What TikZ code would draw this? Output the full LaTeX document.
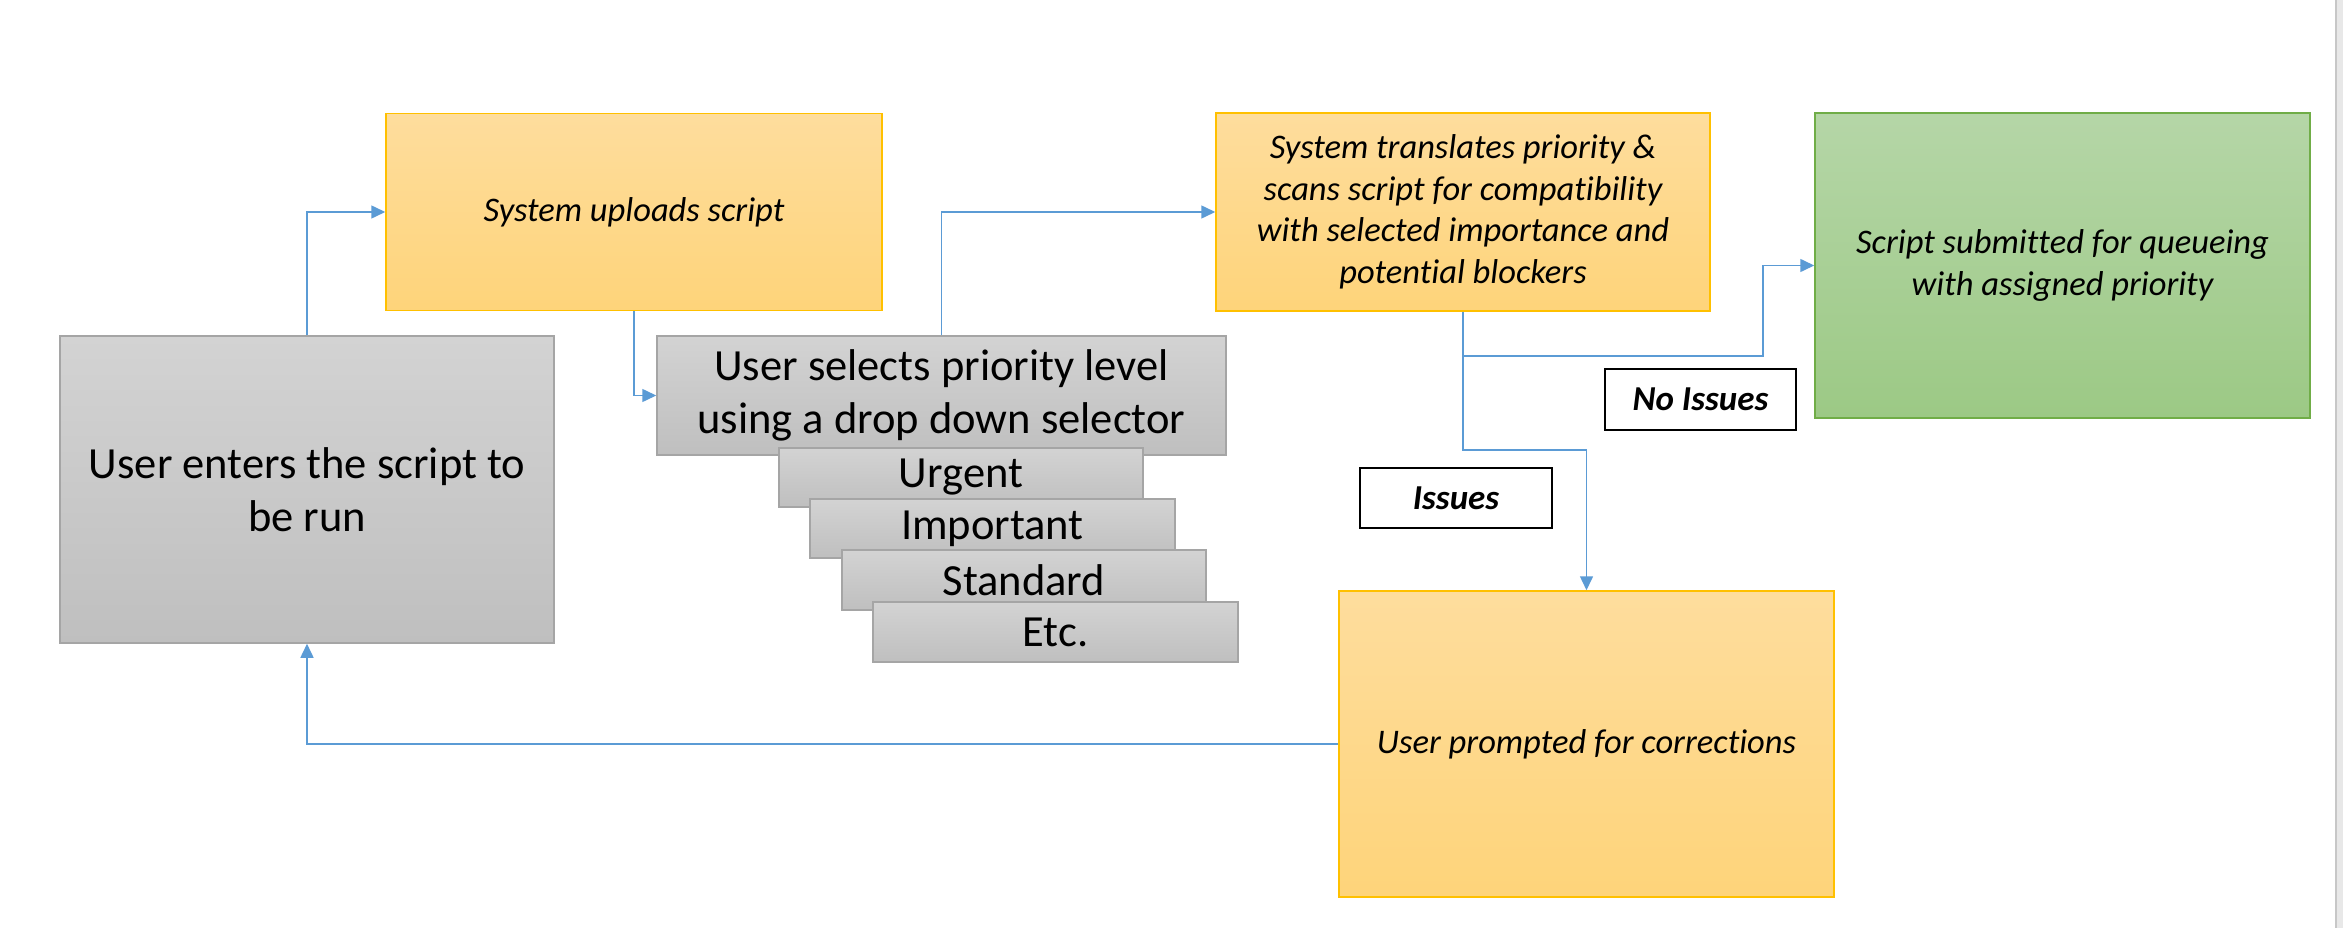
\documentclass[tikz,border=0pt]{standalone}
\usepackage{fontspec}
\setmainfont{Carlito}[Ligatures={NoCommon}]
\usetikzlibrary{arrows.meta}
\newcommand\ligbrk{\kern0pt{}}
\definecolor{orTop}{HTML}{FEDD9D}
\definecolor{orBot}{HTML}{FED47A}
\definecolor{orLine}{HTML}{FFC000}
\definecolor{grTop}{HTML}{B5D6A7}
\definecolor{grBot}{HTML}{9CC985}
\definecolor{grLine}{HTML}{70AD47}
\definecolor{gyTop}{HTML}{D3D3D3}
\definecolor{gyBot}{HTML}{BFBFBF}
\definecolor{gyLine}{HTML}{A5A5A5}
\definecolor{conLine}{HTML}{5B9BD5}
\begin{document}
\begin{tikzpicture}[x=1pt,y=-1pt,
  basebox/.style={rectangle, inner sep=0pt, align=center, line width=1.5pt},
  orbox/.style={basebox, draw=orLine, top color=orTop, bottom color=orBot,
     font=\fontsize{34.5}{41.5}\selectfont\itshape},
  grbox/.style={basebox, draw=grLine, top color=grTop, bottom color=grBot,
     font=\fontsize{34.5}{41.5}\selectfont\itshape},
  gybox/.style={basebox, draw=gyLine, top color=gyTop, bottom color=gyBot,
     font=\fontsize{44.5}{53}\selectfont},
  lblbox/.style={basebox, draw=black, line width=2.5pt, fill=white,
     font=\fontsize{35}{40}\selectfont\bfseries\itshape},
  conn/.style={draw=conLine, line width=1.5pt,
     -{Triangle[length=14pt,width=13pt]}}]
\useasboundingbox (0,0) rectangle (2343,928);
\fill[white] (0,0) rectangle (2343,928);
\fill[black!9] (2336,0) rectangle (2343,928);
\draw[black!22, line width=2pt] (2336,0) -- (2336,928);

\node[gybox, minimum width=494pt, minimum height=307pt] (enter) at (307,489.5)
  {User enters the script to\\be run};
\node[orbox, minimum width=496pt, minimum height=197pt] (uploads) at (634,212)
  {System uploads script};
\node[gybox, minimum width=569pt, minimum height=119pt] (selects) at (941.5,395.5)
  {User selects priority level\\using a drop down selector};
\node[gybox, minimum width=364pt, minimum height=59pt] (urgent) at (961,477.5) {\raisebox{-3pt}{Urgent}};
\node[gybox, minimum width=365pt, minimum height=59pt] (important) at (992.5,528.5) {\raisebox{-3pt}{Important}};
\node[gybox, minimum width=364pt, minimum height=60pt] (standard) at (1024,580) {\raisebox{-1pt}{Standard}};
\node[gybox, minimum width=365pt, minimum height=60pt] (etc) at (1055.5,632) {\raisebox{-1pt}{Etc.}};
\node[orbox, minimum width=494pt, minimum height=198pt] (translates) at (1463,212)
  {\raisebox{-2pt}{\parbox{490pt}{\centering System translates priority \&\\scans script for compat\ligbrk ibility\\with selected importance and\\potent\ligbrk ial blockers}}};
\node[grbox, minimum width=495pt, minimum height=305pt] (green) at (2062.5,265.5)
  {\raisebox{-2pt}{\parbox{490pt}{\centering Script submit\ligbrk t\ligbrk ed for queueing\\with assigned priority}}};
\node[orbox, minimum width=495pt, minimum height=306pt] (prompted) at (1586.5,744)
  {User prompted for correct\ligbrk ions};
\node[lblbox, minimum width=191pt, minimum height=61pt] (noissues) at (1700.5,399.5) {No Issues};
\node[lblbox, minimum width=192pt, minimum height=60pt] (issues) at (1456,498) {Issues};

\coordinate (b1) at (1763,356);
\coordinate (b2) at (1586.5,450);

\draw[conn] (enter.north) |- (uploads.west);
\draw[conn] (uploads.south) |- (selects.west);
\draw[conn] (selects.north) |- (translates.west);
\draw[conn] (translates.south) |- (b1) |- (green.west);
\draw[conn] (translates.south) |- (b2) -- (prompted.north);
\draw[conn] (prompted.west) -| (enter.south);
\end{tikzpicture}
\end{document}
